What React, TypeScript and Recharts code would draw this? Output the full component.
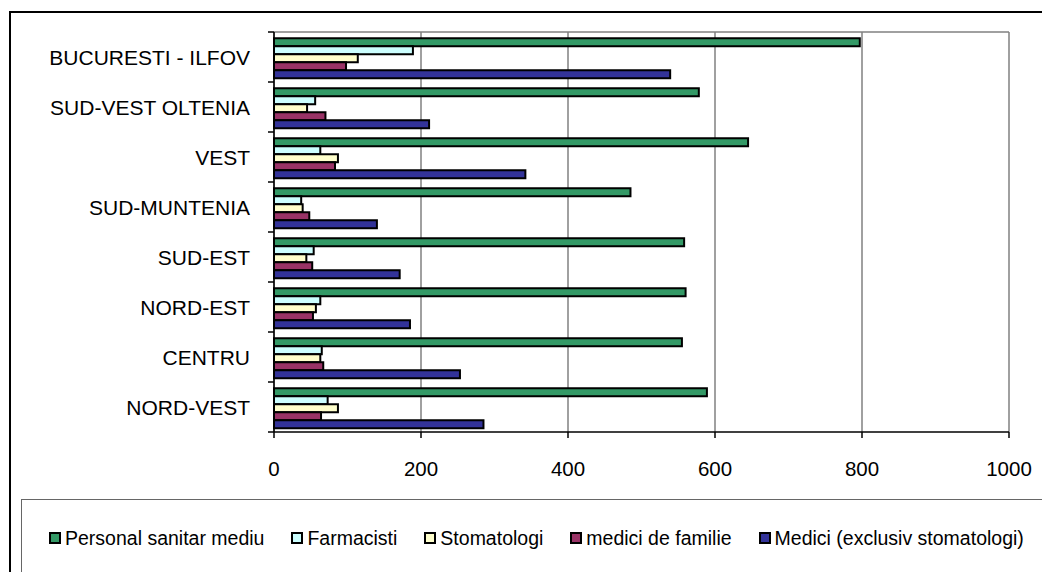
import { BarChart, Bar, XAxis, YAxis, CartesianGrid, ReferenceLine } from "recharts";

// regiuni, de sus in jos
const regions = [
  "BUCURESTI - ILFOV",
  "SUD-VEST OLTENIA",
  "VEST",
  "SUD-MUNTENIA",
  "SUD-EST",
  "NORD-EST",
  "CENTRU",
  "NORD-VEST",
];

const personalSanitar = [797, 578, 645, 485, 558, 560, 555, 589];
const farmacisti = [189, 56, 63, 37, 54, 63, 65, 73];
const stomatologi = [114, 45, 87, 39, 44, 57, 63, 87];
const mediciFamilie = [98, 70, 83, 48, 52, 53, 67, 64];
const medici = [539, 211, 342, 140, 171, 185, 253, 285];

const xTicks = [0, 200, 400, 600, 800, 1000];

const series = [
  { key: "personal", name: "Personal sanitar mediu", color: "#339966", values: personalSanitar },
  { key: "farm", name: "Farmacisti", color: "#CCFFFF", values: farmacisti },
  { key: "stom", name: "Stomatologi", color: "#FFFFCC", values: stomatologi },
  { key: "mf", name: "medici de familie", color: "#993366", values: mediciFamilie },
  { key: "medici", name: "Medici (exclusiv stomatologi)", color: "#333399", values: medici },
];

const data = regions.map((region, i) => {
  const row: Record<string, string | number> = { region };
  series.forEach((s) => {
    row[s.key] = s.values[i];
  });
  return row;
});

const font = "'Liberation Sans', Arial, sans-serif";
const labelGap = 24;
const tickLen = 6;

// eticheta + liniuta la marginea de sus (si jos pentru ultima) a benzii
function RegionTick(props: any) {
  const { x, y, payload, index, visibleTicksCount } = props;
  const half = payload.offset ?? 0;
  const ax = x + labelGap;
  const isLast = index === visibleTicksCount - 1;
  return (
    <g>
      <text
        x={x}
        y={y}
        textAnchor="end"
        dominantBaseline="central"
        fill="#000"
        fontSize={21}
        fontFamily={font}
      >
        {payload.value}
      </text>
      <line x1={ax - tickLen} x2={ax} y1={y - half} y2={y - half} stroke="#000" strokeWidth={1.5} />
      {isLast && (
        <line x1={ax - tickLen} x2={ax} y1={y + half} y2={y + half} stroke="#000" strokeWidth={1.5} />
      )}
    </g>
  );
}

export default function App() {
  return (
    <div
      style={{
        position: "absolute",
        left: 0,
        top: 0,
        width: 1042,
        height: 572,
        overflow: "hidden",
        background: "#fff",
        fontFamily: font,
      }}
    >
      {/* chenarul exterior */}
      <div
        style={{
          position: "absolute",
          left: 9,
          top: 11,
          width: 1100,
          height: 600,
          borderLeft: "2px solid #000",
          borderTop: "2px solid #000",
        }}
      />

      <BarChart
        width={1042}
        height={572}
        data={data}
        layout="vertical"
        margin={{ top: 32, right: 33, bottom: 100, left: 10 }}
        barCategoryGap="12.5%"
        barGap={0}
        style={{ position: "absolute", left: 0, top: 0 }}
      >
        <CartesianGrid horizontal={false} stroke="#808080" strokeWidth={1.5} />
        <XAxis
          type="number"
          domain={[0, 1000]}
          ticks={xTicks}
          interval={0}
          tickSize={6}
          tickMargin={23}
          height={40}
          axisLine={{ stroke: "#000", strokeWidth: 1.5 }}
          tickLine={{ stroke: "#000", strokeWidth: 1.5 }}
          tick={{ fill: "#000", fontSize: 20.5, fontFamily: font }}
        />
        <YAxis
          yAxisId="cat"
          type="category"
          dataKey="region"
          width={264}
          interval={0}
          tickSize={0}
          tickMargin={labelGap}
          axisLine={{ stroke: "#000", strokeWidth: 1.5 }}
          tickLine={false}
          tick={<RegionTick />}
        />
        {/* marginea de sus a zonei de desen */}
        <ReferenceLine
          yAxisId="cat"
          y={regions[0]}
          position="start"
          stroke="#808080"
          strokeWidth={1.5}
        />
        {series.map((s) => (
          <Bar
            key={s.key}
            dataKey={s.key}
            name={s.name}
            yAxisId="cat"
            fill={s.color}
            stroke="#000"
            strokeWidth={2}
            isAnimationActive={false}
          />
        ))}
      </BarChart>

      {/* legenda */}
      <div
        style={{
          position: "absolute",
          left: 21,
          top: 499,
          width: 1100,
          height: 100,
          border: "1px solid #666",
        }}
      >
        <div
          style={{
            position: "absolute",
            left: 27,
            top: 31,
            display: "flex",
            alignItems: "center",
            whiteSpace: "nowrap",
            fontSize: 19.5,
            lineHeight: "14px",
            color: "#000",
          }}
        >
          {series.map((s) => (
            <div key={s.key} style={{ display: "flex", alignItems: "center", marginRight: 27 }}>
              <span
                style={{
                  display: "inline-block",
                  width: 8,
                  height: 8,
                  border: "2px solid #000",
                  background: s.color,
                  marginRight: 4,
                }}
              />
              <span>{s.name}</span>
            </div>
          ))}
        </div>
      </div>
    </div>
  );
}
